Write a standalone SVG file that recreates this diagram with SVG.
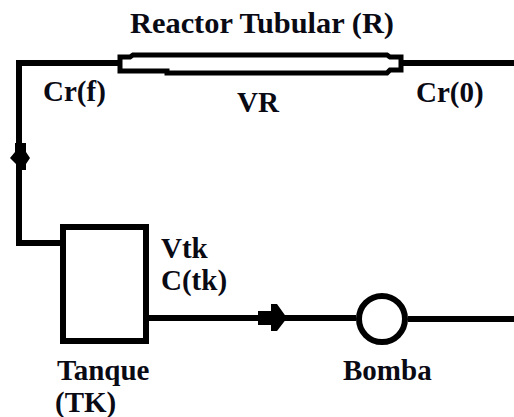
<svg xmlns="http://www.w3.org/2000/svg" width="514" height="417" viewBox="0 0 514 417">
<style>
text{font-family:"Liberation Serif","Times New Roman",serif;font-weight:bold;font-size:29px;fill:#0a0a14}
.l{fill:none;stroke:#000;stroke-width:6}
.n{fill:#fff;stroke:#000;stroke-width:6}
</style>
<rect width="514" height="417" fill="#fff"/>
<g id="connectors">
<path class="l" d="M119 63H19V243H63"/>
<path class="l" d="M400 63H514"/>
<path class="l" d="M146 318H356"/>
<path class="l" d="M408 319H514"/>
<path d="M15 143H26V152L30 158 26 164V170H16V164L10 158 15 152Z" fill="#000"/>
<path d="M258 311H271V304H277L287 318 277 331H271V325H258Z" fill="#000"/>
</g>
<g id="reactor">
<path class="l" style="fill:#fff;stroke-width:5" d="M133 55H387L390 57H401V70H390L387 73H167V71H133L130 71H120V57H130Z"/>
<text x="130" y="33" textLength="264" lengthAdjust="spacingAndGlyphs">Reactor Tubular (R)</text>
<text x="237" y="112">VR</text>
</g>
<g id="tanque">
<rect class="n" x="63" y="227" width="83" height="114"/>
<text x="57" y="380">Tanque</text>
<text x="55" y="412">(TK)</text>
<text x="161" y="258">Vtk</text>
<text x="161" y="290">C(tk)</text>
</g>
<g id="bomba">
<circle class="n" cx="382" cy="319" r="23"/>
<text x="343" y="380">Bomba</text>
</g>
<text x="43" y="101">Cr(f)</text>
<text x="416" y="102">Cr(0)</text>
</svg>
